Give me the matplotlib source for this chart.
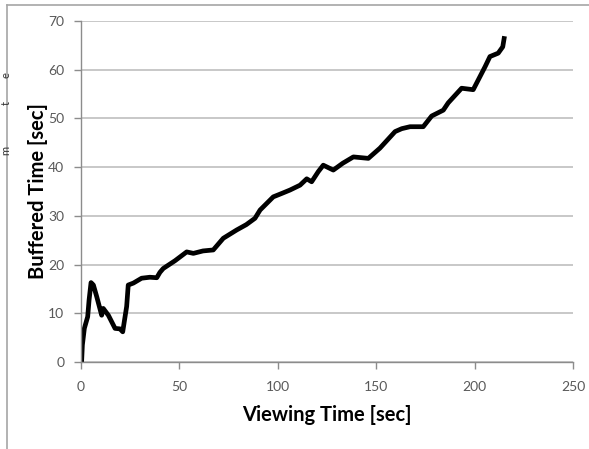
import matplotlib
matplotlib.use("Agg")
import matplotlib.pyplot as plt
from matplotlib.lines import Line2D

viewing_time = [0.3, 0.7, 1.7, 3.4, 4.1, 5.1, 6.3, 8.0, 10.5, 11.3, 13.9, 17.3, 19.8, 21.2,
                22.0, 23.2, 24.0, 26.6, 30.8, 35.0, 38.5, 40.1, 41.8, 47.8, 53.7, 57.1,
                62.0, 67.2, 72.3, 79.1, 84.0, 88.4, 91.0, 97.7, 102.0, 106.2, 111.3, 114.7,
                117.2, 120.6, 123.1, 128.2, 133.0, 138.4, 146.0, 151.9, 159.6, 163.0,
                167.2, 173.9, 178.2, 184.1, 186.6, 193.4, 199.3, 205.3, 207.8, 212.0,
                214.3, 215.0]
buffered_time = [0.0, 3.5, 6.9, 9.3, 12.7, 16.3, 15.8, 13.4, 9.6, 11.0, 9.6, 6.9, 6.8, 6.2,
                 8.3, 11.4, 15.8, 16.2, 17.2, 17.4, 17.3, 18.4, 19.2, 20.8, 22.6, 22.3,
                 22.8, 23.0, 25.4, 27.1, 28.2, 29.5, 31.2, 33.9, 34.6, 35.3, 36.3, 37.6,
                 37.0, 39.1, 40.4, 39.4, 40.8, 42.1, 41.8, 43.9, 47.3, 47.9,
                 48.3, 48.3, 50.5, 51.7, 53.2, 56.2, 55.9, 60.6, 62.7, 63.4,
                 64.7, 66.4]
x_ticks = [0, 50, 100, 150, 200, 250]
y_ticks = [0, 10, 20, 30, 40, 50, 60, 70]

FONT = "Lato"
W, H = 589, 449
fig = plt.figure(figsize=(W / 100, H / 100), dpi=100)
fig.patch.set_facecolor("white")
ax = fig.add_axes([81 / W, 1 - 362 / H, (573 - 81) / W, (362 - 21) / H])

ax.plot(viewing_time, buffered_time, color="black", lw=3.4, solid_joinstyle="round")

ax.set_xlim(0, 250)
ax.set_ylim(0, 70)
ax.set_xticks(x_ticks)
ax.set_yticks(y_ticks)
ax.yaxis.grid(True, color="#bfbfbf", lw=1.2)
ax.set_axisbelow(True)
for s in ["top", "right"]:
    ax.spines[s].set_visible(False)
for s in ["left", "bottom"]:
    ax.spines[s].set_color("#8c8c8c")
    ax.spines[s].set_linewidth(1.0)
ax.tick_params(axis="both", colors="#8c8c8c", length=5, width=1.0, direction="out",
               labelcolor="#595959", labelsize=10)
ax.tick_params(axis="x", pad=9)
ax.tick_params(axis="y", pad=7)
for lab in ax.get_xticklabels() + ax.get_yticklabels():
    lab.set_family(FONT)

ax.set_xlabel("Viewing Time [sec]", fontsize=14.5, fontweight="bold", family=FONT,
              labelpad=8)
ax.set_ylabel("Buffered Time [sec]", fontsize=14.5, fontweight="bold", family=FONT,
              labelpad=0)

# outer frame fragments of the original page
fig.add_artist(Line2D([7 / W, 1], [1 - 5 / H, 1 - 5 / H], transform=fig.transFigure,
                      color="#a6a6a6", lw=1.2))
fig.add_artist(Line2D([7 / W, 7 / W], [0, 1 - 5 / H], transform=fig.transFigure,
                      color="#a6a6a6", lw=1.2))
for ch, ypix in [("e", 75), ("t", 103), ("m", 150)]:
    fig.text(0.5 / W, 1 - ypix / H, ch, rotation=90, fontsize=8, family=FONT,
             ha="left", va="center", color="#333333")

fig.savefig("out.png", dpi=100)
